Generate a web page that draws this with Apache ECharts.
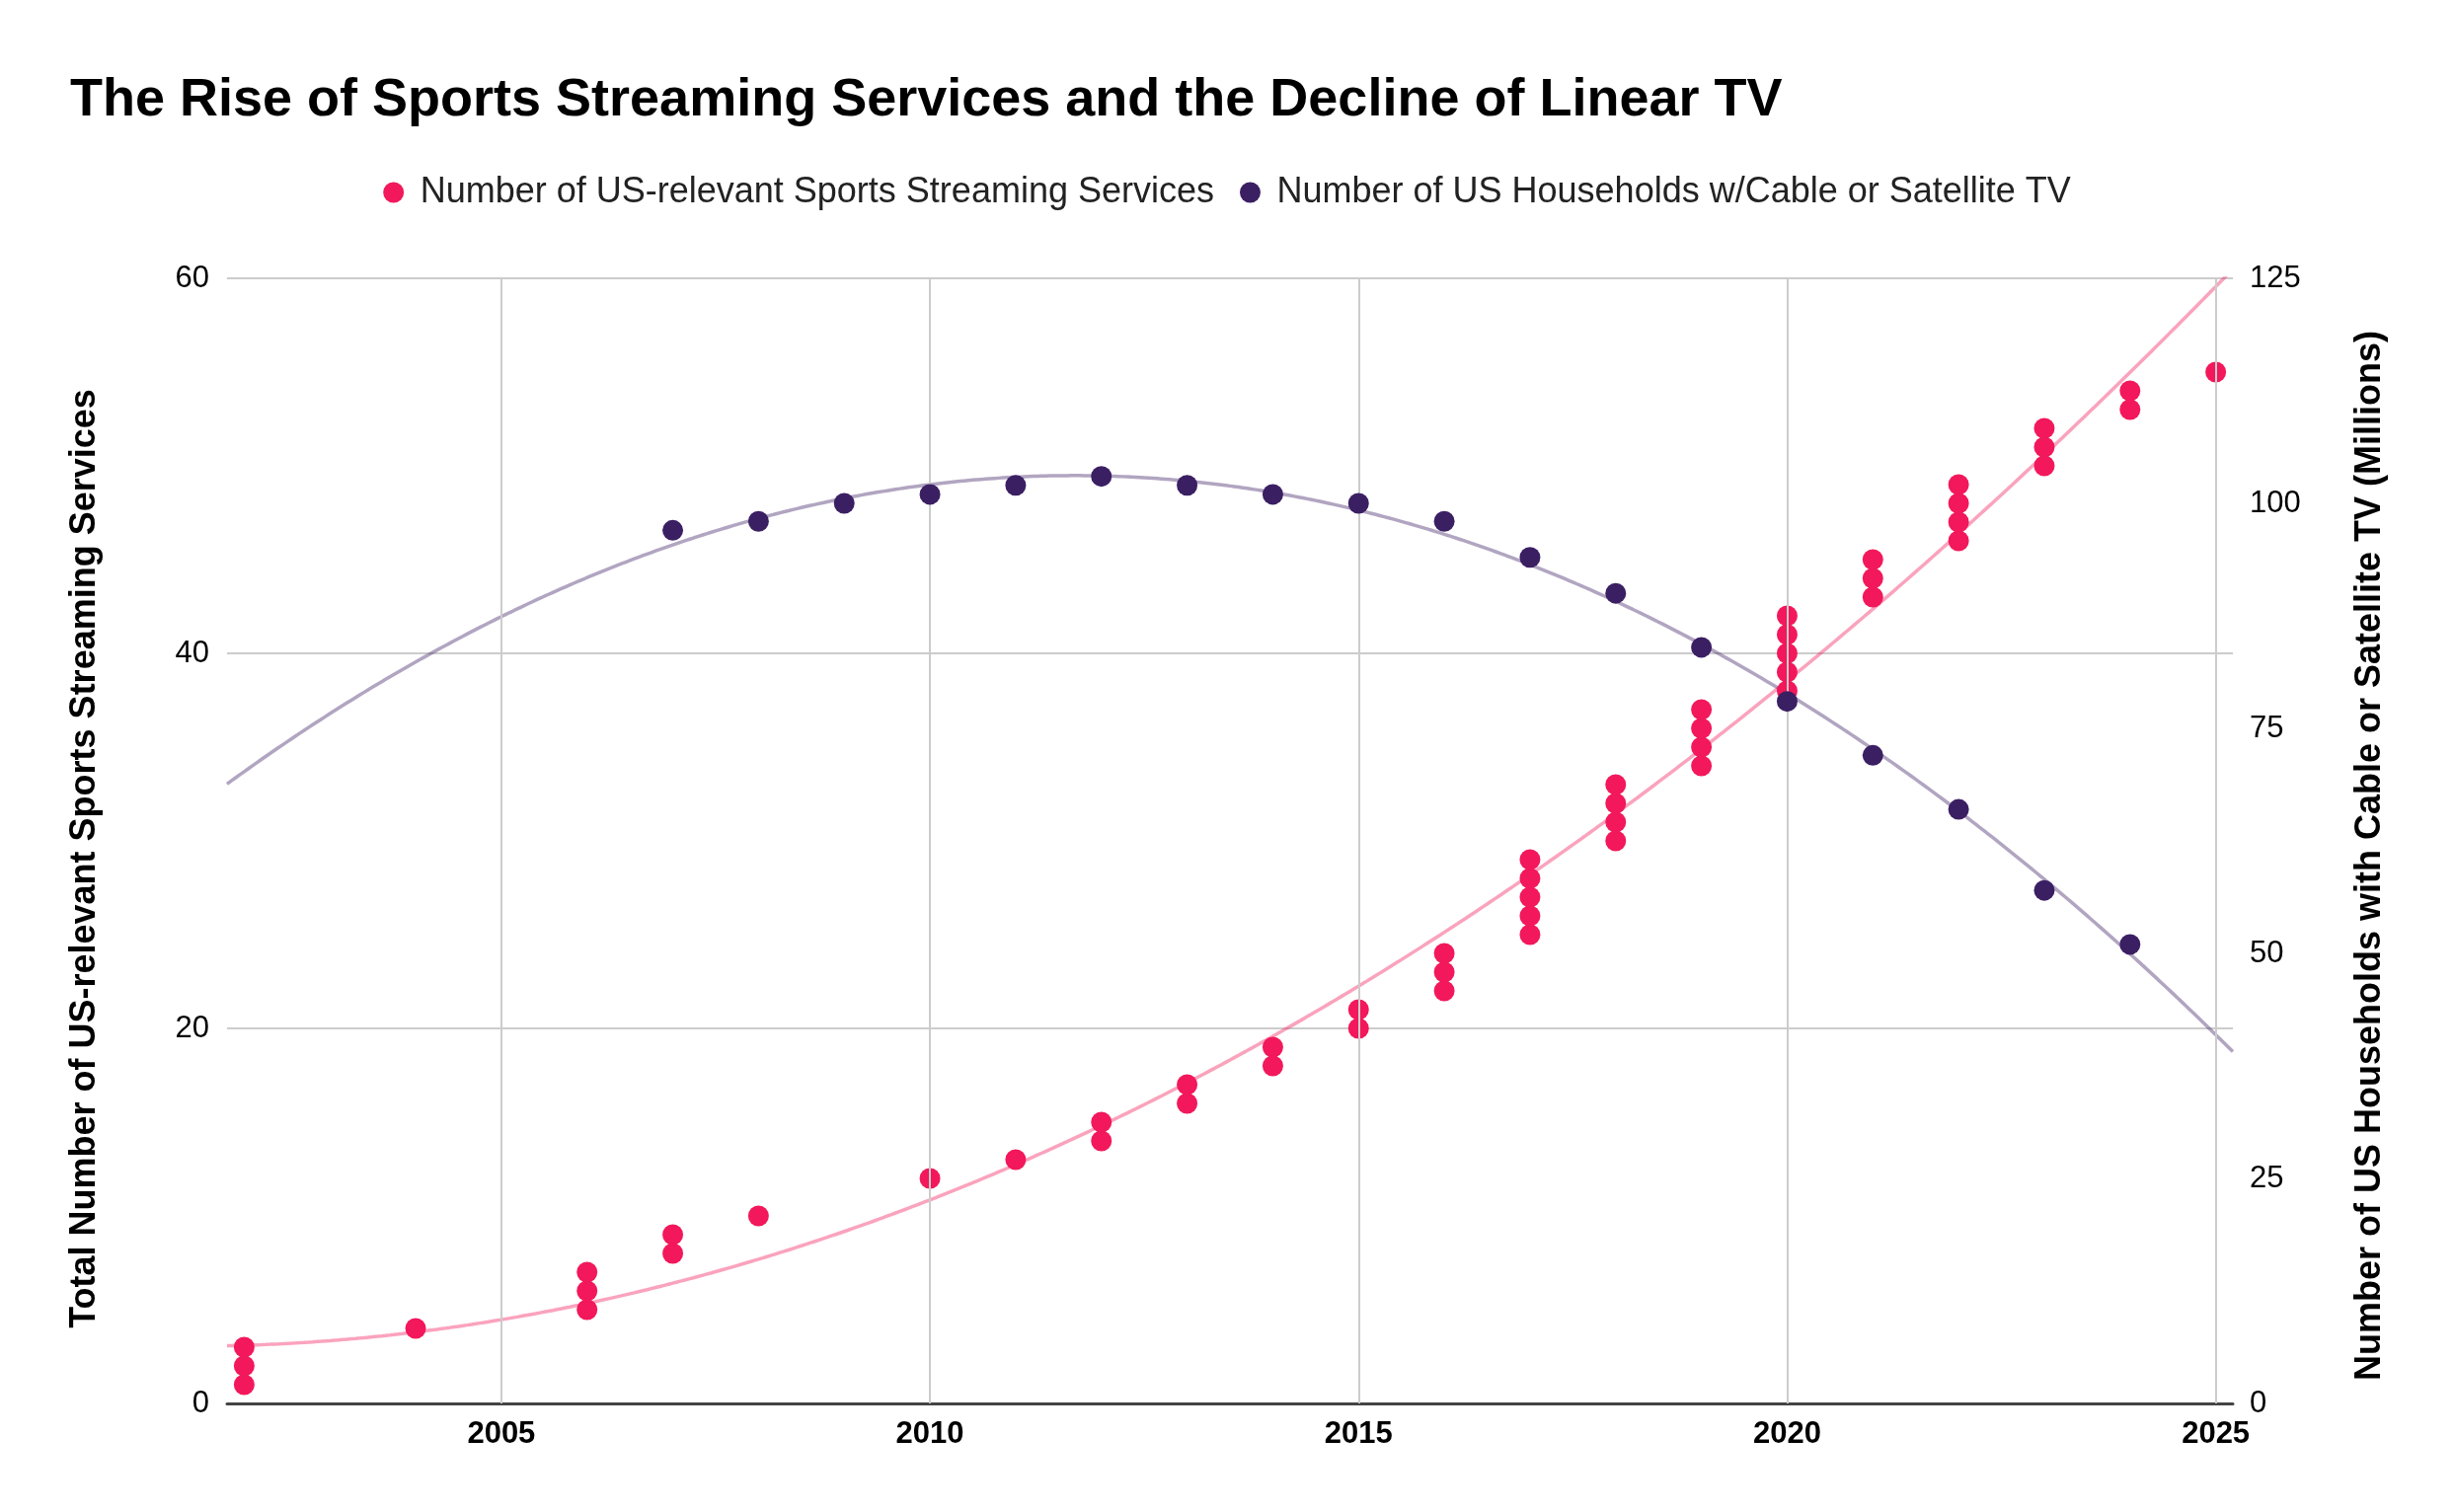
<!DOCTYPE html>
<html><head><meta charset="utf-8">
<script src="https://cdn.jsdelivr.net/npm/echarts@6/dist/echarts.min.js"></script>
<style>html,body{margin:0;padding:0;background:#fff}#c{width:2486px;height:1532px}</style>
</head><body><div id="c"></div>
<script>
const chartTitle = 'The Rise of Sports Streaming Services and the Decline of Linear TV';
const seriesNames = ['Number of US-relevant Sports Streaming Services', 'Number of US Households w/Cable or Satellite TV'];
const leftAxisTitle = 'Total Number of US-relevant Sports Streaming Services';
const rightAxisTitle = 'Number of US Households with Cable or Satellite TV (Millions)';

// cumulative count of services at each launch year
const streamingYears  = [2002,2002,2002,2004,2006,2006,2006,2007,2007,2008,2010,2011,2012,2012,2013,2013,2014,2014,2015,2015,2016,2016,2016,2017,2017,2017,2017,2017,2018,2018,2018,2018,2019,2019,2019,2019,2020,2020,2020,2020,2020,2021,2021,2021,2022,2022,2022,2022,2023,2023,2023,2024,2024,2025];
const streamingCounts = [1,2,3,4,5,6,7,8,9,10,12,13,14,15,16,17,18,19,20,21,22,23,24,25,26,27,28,29,30,31,32,33,34,35,36,37,38,39,40,41,42,43,44,45,46,47,48,49,50,51,52,53,54,55];

const householdYears    = [2007,2008,2009,2010,2011,2012,2013,2014,2015,2016,2017,2018,2019,2020,2021,2022,2023,2024];
const householdMillions = [97,98,100,101,102,103,102,101,100,98,94,90,84,78,72,66,57,51];

const xTickYears = [2005, 2010, 2015, 2020, 2025];
const xRange = [2001.8, 2025.2];
const leftRange = [0, 60];
const rightRange = [0, 125];
const streamingTrendDegree = 3;
const householdTrendDegree = 2;

const FONT = '"Liberation Sans", Arial, Helvetica, sans-serif';
const PINK = '#f2185b', PURPLE = '#3b1f63';

function polyFit(xs, ys, deg) {
  const n = xs.length;
  const mx = xs.reduce((a, b) => a + b, 0) / n;
  const m = deg + 1;
  const A = Array.from({length: m}, () => new Array(m + 1).fill(0));
  for (let k = 0; k < n; k++) {
    const t = xs[k] - mx;
    const pw = [];
    for (let i = 0; i < 2 * m; i++) pw.push(Math.pow(t, i));
    for (let i = 0; i < m; i++) {
      for (let j = 0; j < m; j++) A[i][j] += pw[i + j];
      A[i][m] += pw[i] * ys[k];
    }
  }
  for (let c = 0; c < m; c++) {
    let p = c;
    for (let r = c + 1; r < m; r++) if (Math.abs(A[r][c]) > Math.abs(A[p][c])) p = r;
    [A[c], A[p]] = [A[p], A[c]];
    for (let r = 0; r < m; r++) {
      if (r === c) continue;
      const f = A[r][c] / A[c][c];
      for (let j = c; j <= m; j++) A[r][j] -= f * A[c][j];
    }
  }
  const coef = A.map((row, i) => row[m] / row[i]);
  return x => { const t = x - mx; let v = 0; for (let i = m - 1; i >= 0; i--) v = v * t + coef[i]; return v; };
}

function trend(xs, ys, deg) {
  const f = polyFit(xs, ys, deg);
  const out = [];
  for (let x = xRange[0]; x <= xRange[1] + 1e-9; x += 0.05) out.push([x, f(x)]);
  return out;
}

const streamingPoints = streamingYears.map((y, i) => [y, streamingCounts[i]]);
const householdPoints = householdYears.map((y, i) => [y, householdMillions[i]]);

const chart = echarts.init(document.getElementById('c'), null, {renderer: 'canvas'});
chart.setOption({
  animation: false,
  backgroundColor: '#ffffff',
  textStyle: {fontFamily: FONT},
  title: {
    text: chartTitle, left: 66, top: 70,
    textStyle: {fontSize: 54, fontWeight: 'bold', color: '#000', fontFamily: FONT}
  },
  legend: {
    data: seriesNames, left: 'center', top: 172,
    icon: 'circle', itemWidth: 44, itemHeight: 21, itemGap: 26,
    textStyle: {fontSize: 36, color: '#222', fontFamily: FONT}
  },
  grid: {left: 230, right: 224, top: 282, bottom: 110, containLabel: false},
  xAxis: {
    type: 'value', min: xRange[0], max: xRange[1],
    axisLine: {show: true, lineStyle: {color: '#444', width: 3}},
    axisTick: {show: false, customValues: xTickYears},
    axisLabel: {show: true, customValues: xTickYears, margin: 16,
      fontSize: 31, fontWeight: 'bold', color: '#000', fontFamily: FONT,
      formatter: v => String(Math.round(v))},
    splitLine: {show: false}
  },
  yAxis: [{
    type: 'value', min: leftRange[0], max: leftRange[1], interval: 20, position: 'left',
    axisLine: {show: false}, axisTick: {show: false},
    axisLabel: {margin: 18, fontSize: 31, color: '#000', fontFamily: FONT},
    splitLine: {show: true, lineStyle: {color: '#cccccc', width: 2}}
  }, {
    type: 'value', min: rightRange[0], max: rightRange[1], interval: 25, position: 'right',
    axisLine: {show: false}, axisTick: {show: false},
    axisLabel: {margin: 17, fontSize: 31, color: '#000', fontFamily: FONT},
    splitLine: {show: false}
  }],
  graphic: [{
    type: 'text', x: 86, y: 870, rotation: Math.PI / 2,
    style: {text: leftAxisTitle, fontSize: 36, fontWeight: 'bold', fontFamily: FONT, fill: '#000', align: 'center', verticalAlign: 'middle'}
  }, {
    type: 'text', x: 2401, y: 867, rotation: Math.PI / 2,
    style: {text: rightAxisTitle, fontSize: 36, fontWeight: 'bold', fontFamily: FONT, fill: '#000', align: 'center', verticalAlign: 'middle'}
  }],
  series: [{
    name: seriesNames[0], type: 'scatter', data: streamingPoints, yAxisIndex: 0,
    symbol: 'circle', symbolSize: 21, itemStyle: {color: PINK, opacity: 1}, z: 4,
    markLine: {
      silent: true, symbol: ['none', 'none'], label: {show: false},
      lineStyle: {color: '#cccccc', width: 2, type: 'solid'},
      emphasis: {disabled: true},
      data: xTickYears.map(v => ({xAxis: v}))
    }
  }, {
    name: seriesNames[1], type: 'scatter', data: householdPoints, yAxisIndex: 1,
    symbol: 'circle', symbolSize: 21, itemStyle: {color: PURPLE, opacity: 1}, z: 5
  }, {
    name: 'trend1', type: 'line', data: trend(streamingYears, streamingCounts, streamingTrendDegree), yAxisIndex: 0,
    showSymbol: false, symbol: 'none', silent: true, clip: true, z: 2,
    lineStyle: {color: PINK, opacity: 0.4, width: 3.5}
  }, {
    name: 'trend2', type: 'line', data: trend(householdYears, householdMillions, householdTrendDegree), yAxisIndex: 1,
    showSymbol: false, symbol: 'none', silent: true, clip: true, z: 2,
    lineStyle: {color: PURPLE, opacity: 0.4, width: 3.5}
  }]
});
</script></body></html>
